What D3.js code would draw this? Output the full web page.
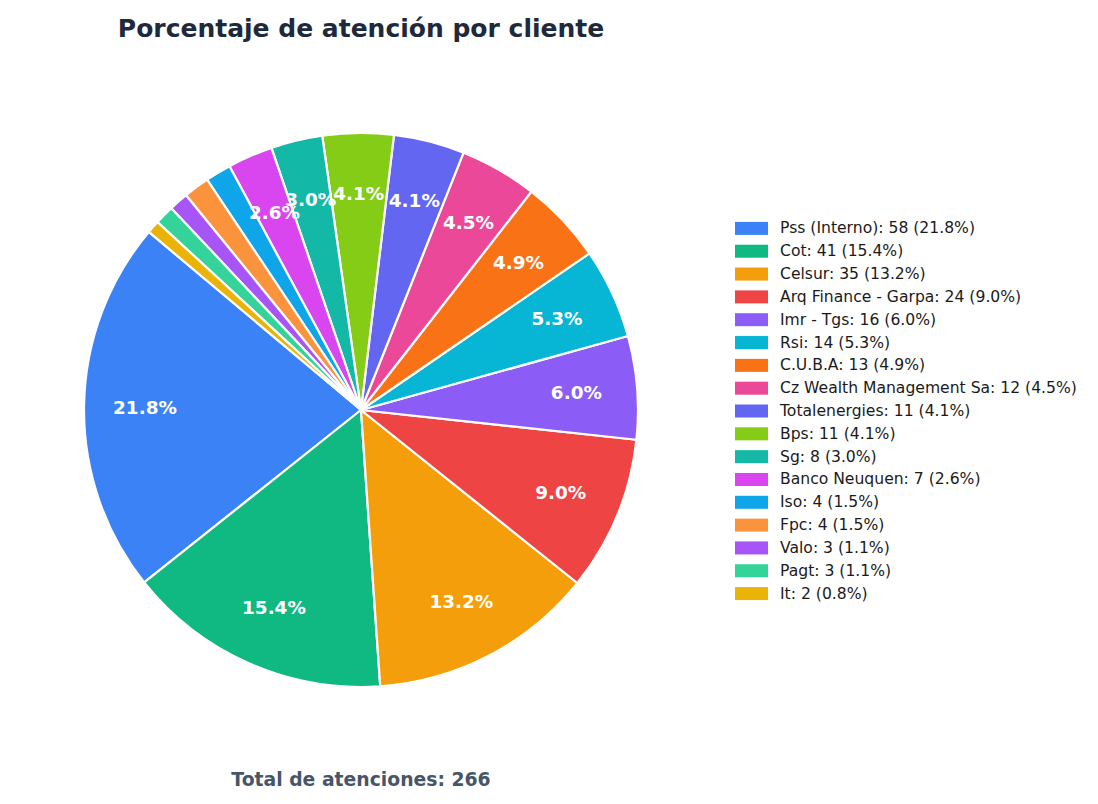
<!DOCTYPE html>
<html>

<head>
  <title>Porcentaje de atención por cliente</title>
  <script src="https://d3js.org/d3.v7.min.js"></script>

  <style>
    body {
      margin: 0;
      background-color: white;
      font-family: "DejaVu Sans", sans-serif;
    }

    .title {
      font-size: 25px;
      font-weight: bold;
      fill: #1e293b;
    }

    .total {
      font-size: 18.8px;
      font-weight: bold;
      fill: #475569;
    }

    .pct-label {
      font-size: 18.4px;
      font-weight: bold;
      fill: white;
    }

    .legend-label {
      font-size: 15.6px;
      fill: #1a1a1a;
    }
  </style>
</head>

<body>
  <svg id="chart" width="1098" height="804"></svg>

  <script>
    // ----------- DATA -----------------------------------
    const clients = ["Pss (Interno)", "Cot", "Celsur", "Arq Finance - Garpa", "Imr - Tgs", "Rsi", "C.U.B.A",
      "Cz Wealth Management Sa", "Totalenergies", "Bps", "Sg", "Banco Neuquen", "Iso", "Fpc", "Valo", "Pagt", "It"];
    const counts = [58, 41, 35, 24, 16, 14, 13, 12, 11, 11, 8, 7, 4, 4, 3, 3, 2];
    const colors = ["#3b82f6", "#10b981", "#f59e0b", "#ef4444", "#8b5cf6", "#06b6d4", "#f97316", "#ec4899",
      "#6366f1", "#84cc16", "#14b8a6", "#d946ef", "#0ea5e9", "#fb923c", "#a855f7", "#34d399", "#eab308"];

    const total = d3.sum(counts);
    const data = clients.map((name, i) => ({ name, count: counts[i], color: colors[i] }));

    const svg = d3.select("#chart");

    // pie sizes
    const cx = 361, cy = 410, radius = 277;
    const labelRadius = radius * 0.78;

    // start at 140 deg (math angle) and go counterclockwise
    const start = (90 - 140) * Math.PI / 180;
    const pie = d3.pie()
      .sort(null)
      .value(d => d.count)
      .startAngle(start)
      .endAngle(start - 2 * Math.PI);

    const arc = d3.arc().innerRadius(0).outerRadius(radius);
    const labelArc = d3.arc().innerRadius(labelRadius).outerRadius(labelRadius);

    const pieGroup = svg.append("g").attr("transform", `translate(${cx},${cy})`);
    const slices = pie(data);

    pieGroup.selectAll("path")
      .data(slices)
      .join("path")
      .attr("d", arc)
      .attr("fill", d => d.data.color)
      .attr("stroke", "white")
      .attr("stroke-width", 2.2)
      .attr("stroke-linejoin", "round");

    const pct = d => d.count / total * 100;

    pieGroup.selectAll("text")
      .data(slices.filter(d => pct(d.data) > 2.5))
      .join("text")
      .attr("class", "pct-label")
      .attr("transform", d => `translate(${labelArc.centroid(d)})`)
      .attr("text-anchor", "middle")
      .attr("dominant-baseline", "central")
      .text(d => pct(d.data).toFixed(1) + "%");

    // title and total
    svg.append("text")
      .attr("class", "title")
      .attr("x", cx)
      .attr("y", 37)
      .attr("text-anchor", "middle")
      .text("Porcentaje de atención por cliente");

    svg.append("text")
      .attr("class", "total")
      .attr("x", cx)
      .attr("y", 786)
      .attr("text-anchor", "middle")
      .text(`Total de atenciones: ${total}`);

    // legend
    const legendY = d3.scaleBand()
      .domain(clients)
      .range([217, 605]);

    const legend = svg.append("g");
    const rows = legend.selectAll("g")
      .data(data)
      .join("g")
      .attr("transform", d => `translate(735,${legendY(d.name) + legendY.bandwidth() / 2})`);

    rows.append("rect")
      .attr("x", 0)
      .attr("y", -6.5)
      .attr("width", 33)
      .attr("height", 13)
      .attr("fill", d => d.color);

    rows.append("text")
      .attr("class", "legend-label")
      .attr("x", 45)
      .attr("y", 0)
      .attr("dominant-baseline", "central")
      .text(d => `${d.name}: ${d.count} (${pct(d).toFixed(1)}%)`);
  </script>

</body>

</html>
